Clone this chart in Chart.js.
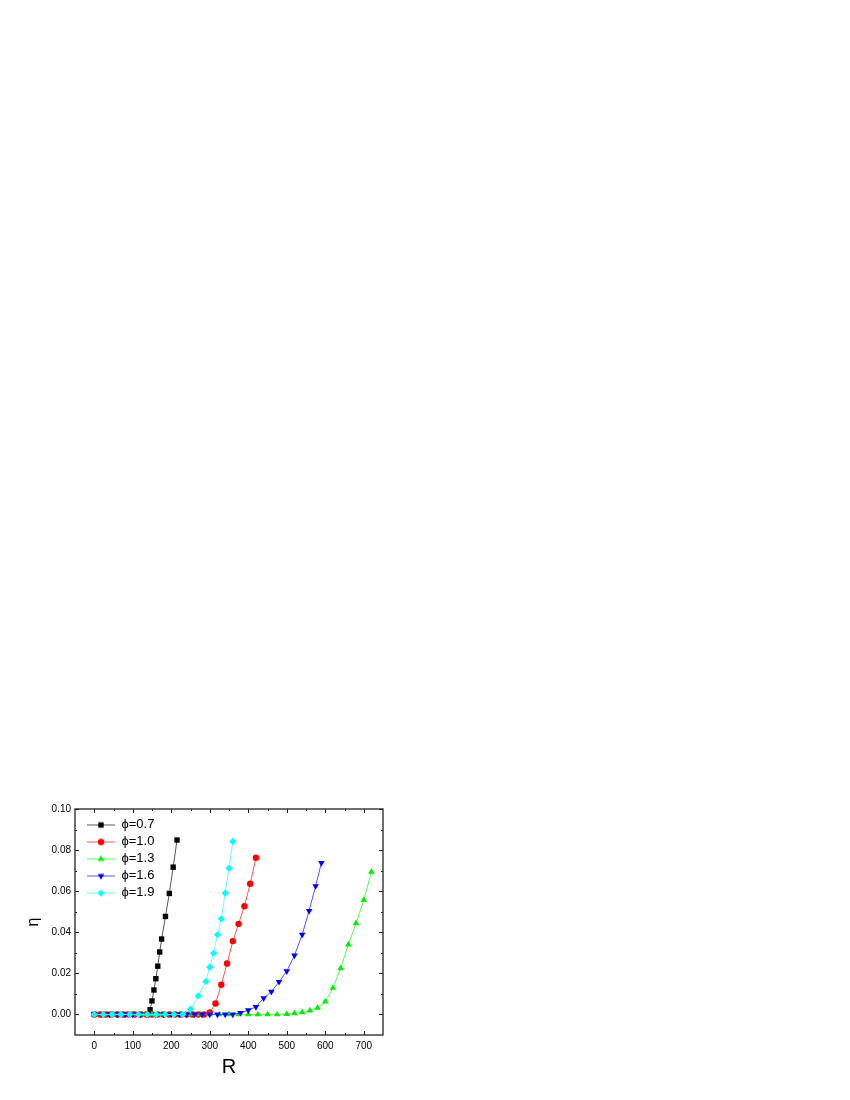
<!DOCTYPE html>
<html>
<head>
<meta charset="utf-8">
<script src="https://cdn.jsdelivr.net/npm/chart.js@4.4.1/dist/chart.umd.min.js"></script>
<style>
  body { margin: 0; background: #fff; }
  canvas { display: block; }
</style>
</head>
<body>
<canvas id="myChart" width="850" height="1100"></canvas>
<script>
// series labels and colours
const seriesNames = ['\u03d5=0.7', '\u03d5=1.0', '\u03d5=1.3', '\u03d5=1.6', '\u03d5=1.9'];
const seriesColors = ['#000000', '#ff0000', '#00ee00', '#0000ff', '#00ffff'];
const lineColors = ['#555555', '#ff5555', '#55ff55', '#5555ff', '#66ffff'];
const seriesStyles = ['rect', 'circle', 'triangle', 'triangle', 'rectRot'];
const seriesRotation = [0, 0, 0, 180, 0];
const markerSize = [3.8, 3.2, 3.8, 3.8, 3.6];

// values
const rPhi07 = [0, 20, 40, 60, 80, 100, 120, 140, 145, 150, 155, 160, 165, 170, 175, 185, 195, 205, 215];
const etaPhi07 = [0, 0, 0, 0, 0, 0, 0, 0, 0.0023, 0.0066, 0.0119, 0.0174, 0.0235, 0.0304, 0.0367, 0.0477, 0.0589, 0.0717, 0.0849];

const rPhi10 = [0, 15, 30, 45, 60, 75, 90, 105, 120, 135, 150, 165, 180, 195, 210, 225, 240, 255, 270, 285, 300, 315, 330, 345, 360, 375, 390, 405, 420];
const etaPhi10 = [0, 0, 0, 0, 0, 0, 0, 0, 0, 0, 0, 0, 0, 0, 0, 0, 0, 0, 0, 0, 0.001, 0.0053, 0.0145, 0.0248, 0.0357, 0.0441, 0.0527, 0.0636, 0.0763];

const rPhi13 = [0, 25, 50, 75, 100, 125, 150, 175, 200, 225, 250, 275, 300, 325, 350, 375, 400, 425, 450, 475, 500, 520, 540, 560, 580, 600, 620, 640, 660, 680, 700, 720];
const etaPhi13 = [0, 0, 0, 0, 0, 0, 0, 0, 0, 0, 0, 0, 0, 0, 0, 0, 0, 0, 0, 0, 0.0002, 0.0005, 0.001, 0.0019, 0.0032, 0.0063, 0.0129, 0.0225, 0.034, 0.0444, 0.0557, 0.0694];

const rPhi16 = [0, 20, 40, 60, 80, 100, 120, 140, 160, 180, 200, 220, 240, 260, 280, 300, 320, 340, 360, 380, 400, 420, 440, 460, 480, 500, 520, 540, 558, 575, 590];
const etaPhi16 = [0, 0, 0, 0, 0, 0, 0, 0, 0, 0, 0, 0, 0, 0, 0, 0, 0, 0, 0, 0.0008, 0.0021, 0.0037, 0.0079, 0.0111, 0.0159, 0.0211, 0.0287, 0.0388, 0.0504, 0.0625, 0.0738];

const rPhi19 = [0, 23, 46, 69, 92, 115, 138, 161, 184, 207, 230, 250, 270, 290, 300, 310, 320, 330, 340, 350, 360];
const etaPhi19 = [0, 0, 0, 0, 0, 0, 0, 0, 0, 0, 0, 0.0026, 0.009, 0.0161, 0.023, 0.0298, 0.0388, 0.0465, 0.0591, 0.0712, 0.0842];

const rValues = [rPhi07, rPhi10, rPhi13, rPhi16, rPhi19];
const etaValues = [etaPhi07, etaPhi10, etaPhi13, etaPhi16, etaPhi19];

// axis ticks
const xTicks = [0, 100, 200, 300, 400, 500, 600, 700];
const xMinor = [50, 150, 250, 350, 450, 550, 650];
const yTicks = [0, 0.02, 0.04, 0.06, 0.08, 0.10];
const yMinor = [0.01, 0.03, 0.05, 0.07, 0.09];

const fontFamily = "'Liberation Sans', Arial, sans-serif";

// little line + marker picture used as legend symbol
function legendIcon(i) {
    const c = document.createElement('canvas');
    c.width = 28;
    c.height = 12;
    const g = c.getContext('2d');
    g.strokeStyle = lineColors[i];
    g.lineWidth = 1;
    g.beginPath();
    g.moveTo(0, 6.5);
    g.lineTo(28, 6.5);
    g.stroke();
    g.fillStyle = seriesColors[i];
    Chart.helpers.drawPoint(g, { pointStyle: seriesStyles[i], radius: markerSize[i], rotation: seriesRotation[i], borderWidth: 0 }, 14, 6.5);
    return c;
}

const datasets = seriesNames.map((name, i) => ({
    label: name,
    data: rValues[i].map((r, k) => ({ x: r, y: etaValues[i][k] })),
    borderColor: lineColors[i],
    backgroundColor: seriesColors[i],
    pointBackgroundColor: seriesColors[i],
    pointBorderWidth: 0,
    pointStyle: seriesStyles[i],
    rotation: seriesRotation[i],
    pointRadius: markerSize[i],
    borderWidth: 1,
    tension: 0,
    order: 5 - i,
    icon: legendIcon(i)
}));

// box frame with inward ticks on all four sides
const frameTicks = {
    id: 'frameTicks',
    afterDatasetsDraw(chart) {
        const { ctx, chartArea: a, scales: { x, y } } = chart;
        ctx.save();
        ctx.strokeStyle = '#222';
        ctx.lineWidth = 1;
        const tick = (px, py, dx, dy) => {
            ctx.beginPath();
            ctx.moveTo(px, py);
            ctx.lineTo(px + dx, py + dy);
            ctx.stroke();
        };
        xTicks.forEach(v => {
            const p = Math.round(x.getPixelForValue(v)) + 0.5;
            tick(p, a.bottom, 0, -4);
            tick(p, a.top, 0, 4);
        });
        xMinor.forEach(v => {
            const p = Math.round(x.getPixelForValue(v)) + 0.5;
            tick(p, a.bottom, 0, -2);
            tick(p, a.top, 0, 2);
        });
        yTicks.forEach(v => {
            const p = Math.round(y.getPixelForValue(v)) + 0.5;
            tick(a.left, p, 4, 0);
            tick(a.right, p, -4, 0);
        });
        yMinor.forEach(v => {
            const p = Math.round(y.getPixelForValue(v)) + 0.5;
            tick(a.left, p, 2, 0);
            tick(a.right, p, -2, 0);
        });
        ctx.lineWidth = 1.3;
        ctx.strokeRect(a.left, a.top, a.right - a.left, a.bottom - a.top);
        ctx.restore();
    }
};

// put the legend in the upper left corner of the plot
const legendPos = {
    id: 'legendPos',
    afterLayout(chart) {
        const lg = chart.legend;
        const a = chart.chartArea;
        const w = lg.width, h = lg.height;
        lg.left = a.left + 8;
        lg.top = a.top + 5;
        lg.right = lg.left + w;
        lg.bottom = lg.top + h;
    }
};

const ctx = document.getElementById('myChart').getContext('2d');

const myChart = new Chart(ctx, {
    type: 'line',
    data: { datasets: datasets },
    options: {
        responsive: false,
        animation: false,
        devicePixelRatio: 1,
        layout: {
            padding: { left: 24, top: 809, right: 467, bottom: 21 }
        },
        plugins: {
            tooltip: { enabled: false },
            legend: {
                position: 'chartArea',
                align: 'start',
                labels: {
                    usePointStyle: true,
                    pointStyleWidth: 28,
                    padding: 4,
                    color: '#000',
                    font: { family: fontFamily, size: 13 },
                    sort: (a, b) => a.datasetIndex - b.datasetIndex,
                    generateLabels: (chart) => chart.data.datasets.map((ds, i) => ({
                        text: ds.label,
                        pointStyle: ds.icon,
                        fillStyle: ds.backgroundColor,
                        strokeStyle: ds.borderColor,
                        lineWidth: 0,
                        hidden: false,
                        datasetIndex: i,
                        fontColor: '#000'
                    }))
                }
            }
        },
        scales: {
            x: {
                type: 'linear',
                min: -50,
                max: 750,
                grid: { display: false, drawTicks: false },
                border: { display: false },
                afterBuildTicks: (s) => { s.ticks = xTicks.map(v => ({ value: v })); },
                afterFit: (s) => { s.height = 44; },
                ticks: {
                    padding: 5,
                    color: '#000',
                    font: { family: fontFamily, size: 10 },
                    maxRotation: 0
                },
                title: {
                    display: true,
                    text: 'R',
                    color: '#000',
                    padding: 0,
                    font: { family: fontFamily, size: 20 }
                }
            },
            y: {
                type: 'linear',
                min: -0.01,
                max: 0.10,
                grid: { display: false, drawTicks: false },
                border: { display: false },
                afterBuildTicks: (s) => { s.ticks = yTicks.map(v => ({ value: v })); },
                afterFit: (s) => { s.width = 51; },
                ticks: {
                    padding: 4,
                    color: '#000',
                    font: { family: fontFamily, size: 10 },
                    callback: (v) => Number(v).toFixed(2)
                },
                title: {
                    display: true,
                    text: '\u03b7',
                    color: '#000',
                    padding: 0,
                    font: { family: fontFamily, size: 16 }
                }
            }
        }
    },
    plugins: [legendPos, frameTicks]
});
</script>
</body>
</html>
